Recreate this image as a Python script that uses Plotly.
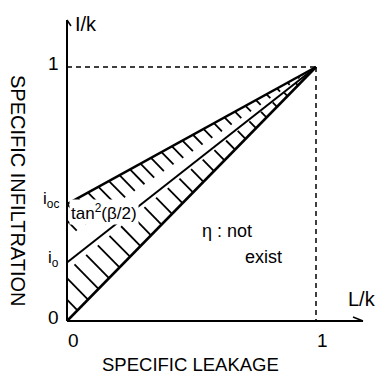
import plotly.graph_objects as go

# ---- data ----
x_ticks = [0, 1]
x_tick_labels = ["0", "1"]
y_ticks = [0, 0.23, 0.46, 1]
y_tick_labels = ["0", "i<sub>o</sub>", "i<sub>oc</sub>", "1"]
i_o = 0.23
i_oc = 0.46
apex = (1, 1)

W, H = 381, 374
# pixel frame of the drawing: origin and the (1,1) point
X0, X1 = 67, 316
Y0, Y1 = 321, 67
sx = (X1 - X0)
sy = (Y0 - Y1)
xr = [-X0 / sx, (W - X0) / sx]
yr = [-(H - Y0) / sy, Y0 / sy]

def px(x):
    return (x - X0) / sx

def py(y):
    return (Y0 - y) / sy

FONT = "Liberation Sans, Arial, sans-serif"

def f(size):
    return dict(size=size, family=FONT, color="black")

fig = go.Figure()

# ---- hatching ("\" strokes) inside the two bands of the wedge ----
STEP = 10.5      # pixel spacing of strokes along x
SLOPE = 1.02     # pixels down per pixel right


def hatch(t0, b0, frac, anchor):
    xs, ys = [], []
    k = -10
    while True:
        u = k * STEP / sx
        k += 1
        if u >= 1:
            break
        top = t0 + (1 - t0) * u
        bot = b0 + (1 - b0) * u
        if top - bot <= 0:
            continue
        if anchor == "top":
            # go down-right from the upper line
            t_full = (top - bot) / (SLOPE / sy + (1 - b0) / sx)
            t_end = frac * t_full
            t_start = max(0.0, -u * sx)
            if t_start >= t_end:
                continue
            for t in (t_start, t_end):
                xs.append(u + t / sx)
                ys.append(top - SLOPE * t / sy)
        else:
            if u <= 0:
                continue
            # go up-left from the lower line
            t_full = (top - bot) / (SLOPE / sy + (1 - t0) / sx)
            t_end = min(frac * t_full, u * sx)
            for t in (0.0, t_end):
                xs.append(u - t / sx)
                ys.append(bot + SLOPE * t / sy)
        xs.append(None)
        ys.append(None)
    return xs, ys


for t0, b0, frac, anchor in [(i_oc, i_o, 0.6, "top"), (i_o, 0, 0.85, "bottom")]:
    hx, hy = hatch(t0, b0, frac, anchor)
    fig.add_trace(go.Scatter(x=hx, y=hy, mode="lines",
                             line=dict(color="black", width=1.8),
                             hoverinfo="skip", showlegend=False))

# three lines to the apex
for start in [0, i_o, i_oc]:
    fig.add_trace(go.Scatter(
        x=[0, apex[0]], y=[start, apex[1]], mode="lines",
        line=dict(color="black", width=2.5 if start != i_o else 2),
        hoverinfo="skip", showlegend=False))

# dashed guides
fig.add_trace(go.Scatter(x=[0, 1], y=[1, 1], mode="lines",
                         line=dict(color="black", width=1.5, dash="5px,4px"),
                         hoverinfo="skip", showlegend=False))
fig.add_trace(go.Scatter(x=[1, 1], y=[1, 0], mode="lines",
                         line=dict(color="black", width=1.5, dash="5px,4px"),
                         hoverinfo="skip", showlegend=False))

shapes = []
# axes
shapes.append(dict(type="line", x0=0, y0=0, x1=px(363), y1=0,
                   line=dict(color="black", width=2)))
shapes.append(dict(type="line", x0=0, y0=0, x1=0, y1=py(20),
                   line=dict(color="black", width=2)))
# arrow barbs
shapes.append(dict(type="line", x0=px(353), y0=py(317), x1=px(363), y1=0,
                   line=dict(color="black", width=1.5)))
shapes.append(dict(type="line", x0=0, y0=py(20), x1=px(71), y1=py(26),
                   line=dict(color="black", width=1.5)))

ann = []
# tick labels
for v, t in zip(x_ticks, x_tick_labels):
    ann.append(dict(x=v + 0.028, y=py(340), text=t, showarrow=False,
                    font=f(19), xanchor="center", yanchor="middle"))
for v, t in zip(y_ticks, y_tick_labels):
    ann.append(dict(x=px(61), y=v + 0.015, text=t, showarrow=False,
                    font=f(19 if t in ("0", "1") else 17),
                    xanchor="right", yanchor="middle"))

ann += [
    dict(x=px(86), y=py(24), text="I/k", showarrow=False, font=f(20)),
    dict(x=px(362), y=py(299), text="L/k", showarrow=False, font=f(20)),
    dict(x=px(190), y=py(364), text="SPECIFIC LEAKAGE", showarrow=False, font=f(18.5)),
    dict(x=px(18), y=py(191), text="SPECIFIC INFILTRATION", showarrow=False,
         textangle=90, font=f(20)),
    dict(x=px(104), y=py(212), text="tan<sup>2</sup>(β/2)", showarrow=False,
         font=f(17), bgcolor="white"),
    dict(x=px(227), y=py(231), text="η : not", showarrow=False, font=f(18)),
    dict(x=px(263), y=py(257), text="exist", showarrow=False, font=f(18)),
]

fig.update_layout(
    width=W, height=H, margin=dict(l=0, r=0, t=0, b=0),
    paper_bgcolor="white", plot_bgcolor="white",
    xaxis=dict(range=xr, visible=False, fixedrange=True),
    yaxis=dict(range=yr, visible=False, fixedrange=True),
    shapes=shapes, annotations=ann, showlegend=False)

fig.write_html("out.html")
